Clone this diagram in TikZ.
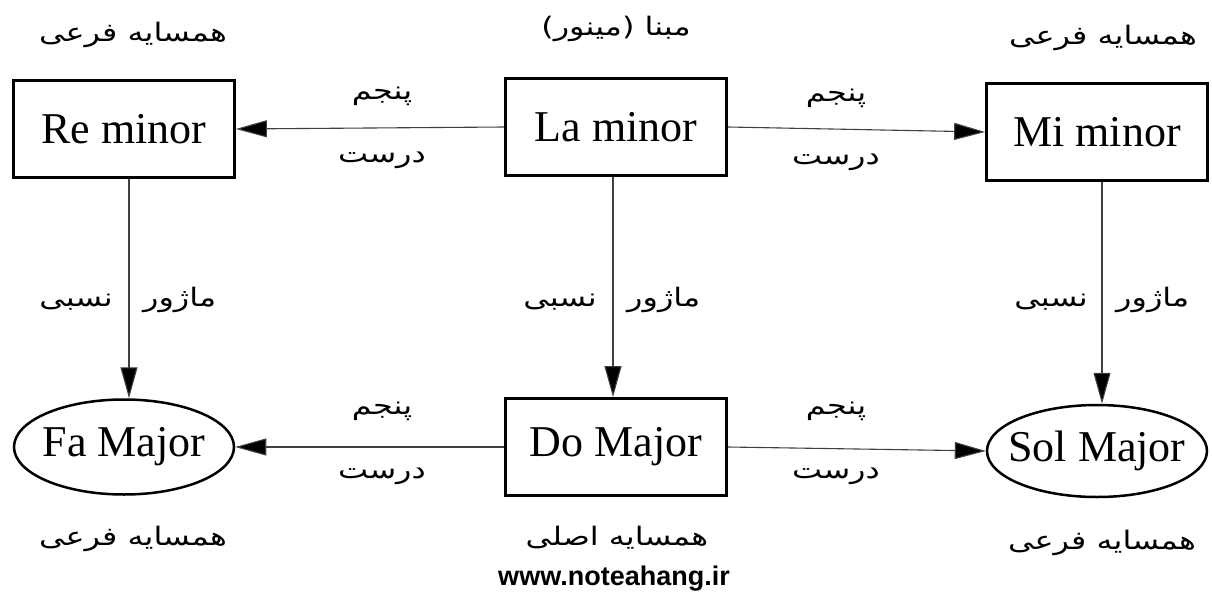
\documentclass[tikz,border=0pt]{standalone}
\usepackage{fontspec}
\usetikzlibrary{shapes.geometric,arrows.meta}
\setmainfont{Liberation Serif}
\newfontfamily\fa[Script=Arabic,FakeStretch=1.25]{DejaVu Sans}
\newfontfamily\webfont{Liberation Sans}
\TeXXeTstate=1
\begin{document}
\begin{tikzpicture}[x=1pt,y=-1pt,
  keybox/.style={draw, line width=2.8pt, minimum width=221pt, minimum height=97pt, inner sep=0pt, font=\fontsize{44}{50}\selectfont},
  keyoval/.style={ellipse, draw, line width=2.5pt, minimum width=220pt, minimum height=95pt, inner sep=0pt, font=\fontsize{44}{50}\selectfont},
  conn/.style={draw=black!75, line width=1.1pt, -{Triangle[length=31pt,width=17pt,fill=black]}},
  falbl/.style={inner sep=0pt, font=\fa\fontsize{25.5}{30}\selectfont}
]
\useasboundingbox (0,0) rectangle (1212,594);
% nodes
\node[keybox] (re) at (124,129) {Re minor};
\node[keybox] (la) at (616,127) {La minor};
\node[keybox] (mi) at (1097,132) {Mi minor};
\node[keyoval] (fa) at (124,447) {\makebox[0pt][c]{Fa Major}};
\node[keybox] (do) at (616,447) {Do Major};
\node[keyoval, minimum height=92pt] (sol) at (1097,451) {\makebox[0pt][c]{Sol Major}};
% connectors
\draw[conn] (la.west) -- (re.east);
\draw[conn] (la.east) -- (mi.west);
\draw[conn] (do.west) -- (fa.east);
\draw[conn] (do.east) -- (sol.west);
\draw[conn] ([xshift=5pt]re.south) -- ([xshift=5pt]re.south |- fa.north);
\draw[conn] ([xshift=-3pt]la.south) -- ([xshift=-3pt]la.south |- do.north);
\draw[conn] ([xshift=5pt]mi.south) -- ([xshift=5pt]mi.south |- sol.north);
% top labels
\node[falbl] (t1) at (133,35) {\beginR همسایه فرعی\endR};
\node[falbl] (t2) at (616,29) {\beginR مبنا (مینور)\endR};
\node[falbl] (t3) at (1103,38) {\beginR همسایه فرعی\endR};
% horizontal labels
\node[falbl] (h1) at (382,96) {\beginR پنجم\endR};
\node[falbl] (h2) at (382,160) {\beginR درست\endR};
\node[falbl] (h3) at (836,98) {\beginR پنجم\endR};
\node[falbl] (h4) at (836,162) {\beginR درست\endR};
\node[falbl] (h5) at (382,411) {\beginR پنجم\endR};
\node[falbl] (h6) at (382,476) {\beginR درست\endR};
\node[falbl] (h7) at (836,411) {\beginR پنجم\endR};
\node[falbl] (h8) at (836,476) {\beginR درست\endR};
% vertical labels
\node[falbl, anchor=east] (v1) at (113,302) {\beginR نسبی\endR};
\node[falbl, anchor=west] (v2) at (143,300) {\beginR ماژور\endR};
\node[falbl, anchor=east] (v3) at (597,302) {\beginR نسبی\endR};
\node[falbl, anchor=west] (v4) at (627,300) {\beginR ماژور\endR};
\node[falbl, anchor=east] (v5) at (1088,302) {\beginR نسبی\endR};
\node[falbl, anchor=west] (v6) at (1116,300) {\beginR ماژور\endR};
% bottom labels
\node[falbl] (b1) at (133,539) {\beginR همسایه فرعی\endR};
\node[falbl] (b2) at (617,538) {\beginR همسایه اصلی\endR};
\node[falbl] (b3) at (1102,543) {\beginR همسایه فرعی\endR};
\node[inner sep=0pt, font=\webfont\bfseries\fontsize{27}{30}\selectfont] (web) at (614,579) {www.noteahang.ir};
\end{tikzpicture}
\end{document}
